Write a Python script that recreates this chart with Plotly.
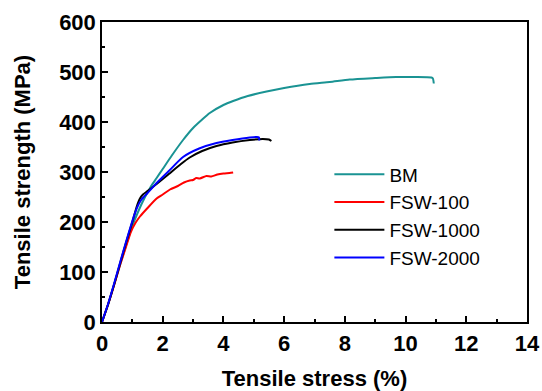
import plotly.graph_objects as go

# Data
bm_x = [0, 0.2, 0.4, 0.6, 0.8, 1.0, 1.2, 1.4, 1.6, 1.8, 2.0, 2.3, 2.67, 3.0, 3.3, 3.55, 4.0, 4.32, 4.8, 5.42, 6.0, 6.84, 7.5, 8.16, 9.0, 9.69, 10.3, 10.85, 10.9, 10.93]
bm_y = [0, 35, 75, 115, 155, 192, 222, 248, 270, 288, 306, 333, 364, 388, 405, 418, 434, 442, 452, 461, 468, 476, 480, 485, 488, 490, 490, 489, 487, 477]

f100_x = [0, 0.2, 0.4, 0.6, 0.8, 0.95, 1.1, 1.25, 1.5, 1.8, 2.0, 2.24, 2.5, 2.7, 2.89, 3.0, 3.1, 3.22, 3.44, 3.6, 3.8, 4.0, 4.2, 4.32]
f100_y = [0, 35, 74, 115, 152, 180, 198, 211, 228, 247, 255, 265, 272, 279, 283, 284, 288, 287, 292, 291, 295, 297, 298, 299]

f1000_x = [0, 0.2, 0.4, 0.6, 0.8, 1.0, 1.15, 1.25, 1.35, 1.5, 1.8, 2.2, 2.6, 2.89, 3.3, 3.77, 4.3, 4.87, 5.3, 5.5, 5.58]
f1000_y = [0, 35, 75, 118, 160, 200, 232, 247, 255, 262, 276, 296, 316, 329, 342, 352, 359, 364, 366, 365, 362]

f2000_x = [0, 0.2, 0.4, 0.6, 0.8, 1.0, 1.15, 1.3, 1.5, 1.8, 2.2, 2.67, 3.2, 3.77, 4.3, 4.87, 5.1, 5.17, 5.18]
f2000_y = [0, 36, 77, 120, 162, 202, 228, 245, 258, 278, 302, 330, 347, 358, 364, 369, 370, 369, 363]

series = [
    ("BM", bm_x, bm_y, "#1A9393"),
    ("FSW-100", f100_x, f100_y, "#FF0000"),
    ("FSW-1000", f1000_x, f1000_y, "#000000"),
    ("FSW-2000", f2000_x, f2000_y, "#0000FF"),
]

fig = go.Figure()
for name, xs, ys, col in series:
    fig.add_trace(go.Scatter(x=xs, y=ys, mode="lines", name=name,
                             line=dict(color=col, width=2, shape="spline", smoothing=0.6)))

axis_common = dict(
    showline=True, linecolor="black", linewidth=1.5, mirror=True,
    ticks="inside", ticklen=6, tickwidth=1.5, tickcolor="black",
    showgrid=False, zeroline=False, automargin=False,
    tickfont=dict(family="Liberation Sans, Arial", size=22, color="black", weight="bold"),
)

fig.update_layout(
    width=542, height=391,
    margin=dict(l=102, r=15, t=22, b=69),
    plot_bgcolor="white", paper_bgcolor="white",
    font=dict(family="Liberation Sans, Arial", color="black"),
    xaxis=dict(range=[0, 14], dtick=2, tick0=0,
               minor=dict(ticks="inside", ticklen=3, tickwidth=1.5, tickcolor="black", dtick=1),
               title=dict(text="<b>Tensile stress (%)</b>", font=dict(size=22), standoff=15),
               ticklabelstandoff=1,
               **axis_common),
    yaxis=dict(range=[0, 600], dtick=100, tick0=0,
               minor=dict(ticks="inside", ticklen=3, tickwidth=1.5, tickcolor="black", dtick=50),
               title=dict(text="<b>Tensile strength (MPa)</b>", font=dict(size=22), standoff=22),
               ticklabelstandoff=0,
               **axis_common),
    legend=dict(x=0.535, y=0.555, xanchor="left", yanchor="top",
                font=dict(size=19, color="black"), bgcolor="rgba(0,0,0,0)",
                itemwidth=50, tracegroupgap=0),
    showlegend=True,
)

# remove the default page margin so the figure sits at the window's top-left corner
fig.write_html("out.html", config={"displayModeBar": False},
               post_script="document.body.style.margin='0';document.body.style.overflow='hidden';")
